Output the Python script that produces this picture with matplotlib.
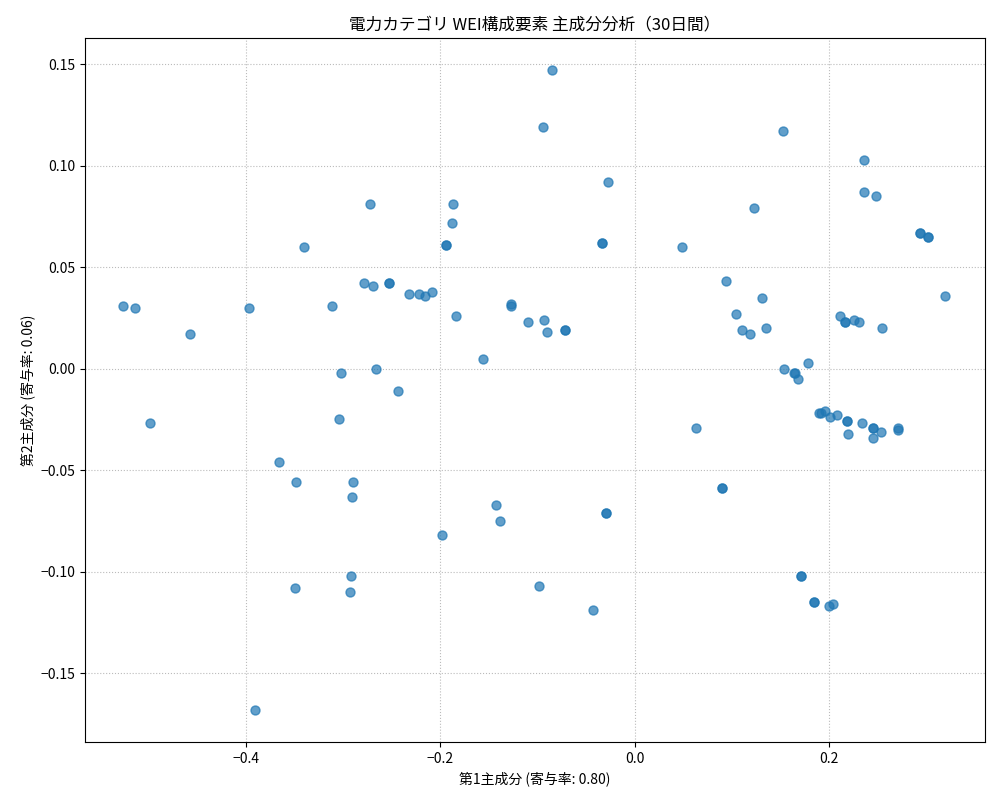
import matplotlib
matplotlib.use("Agg")
import matplotlib.pyplot as plt

plt.rcParams['font.family'] = ['Noto Sans CJK JP', 'DejaVu Sans']
plt.rcParams['axes.unicode_minus'] = True

pc1 = [-0.526,-0.514,-0.498,-0.457,-0.396,-0.390,-0.366,-0.348,-0.349,-0.340,-0.311,-0.304,-0.302,
       -0.290,-0.291,-0.293,-0.292,-0.278,-0.269,-0.266,-0.272,-0.253,-0.253,-0.243,-0.232,-0.222,
       -0.216,-0.208,-0.198,-0.194,-0.194,-0.188,-0.187,-0.184,-0.156,-0.143,-0.138,-0.127,-0.127,
       -0.110,-0.098,-0.093,-0.094,-0.090,-0.085,-0.072,-0.072,-0.043,-0.034,-0.034,-0.030,-0.030,
       -0.027,0.049,0.063,0.090,0.090,0.094,0.104,0.110,0.118,0.123,0.131,0.135,0.152,0.153,0.164,
       0.165,0.168,0.171,0.171,0.178,0.184,0.184,0.189,0.191,0.196,0.200,0.201,0.204,0.208,0.211,
       0.216,0.216,0.218,0.218,0.219,0.225,0.230,0.234,0.236,0.236,0.245,0.245,0.245,0.248,0.253,
       0.254,0.271,0.271,0.293,0.293,0.301,0.301,0.319]
pc2 = [0.031,0.030,-0.027,0.017,0.030,-0.168,-0.046,-0.056,-0.108,0.060,0.031,-0.025,-0.002,
       -0.056,-0.063,-0.110,-0.102,0.042,0.041,0.000,0.081,0.042,0.042,-0.011,0.037,0.037,
       0.036,0.038,-0.082,0.061,0.061,0.072,0.081,0.026,0.005,-0.067,-0.075,0.032,0.031,
       0.023,-0.107,0.024,0.119,0.018,0.147,0.019,0.019,-0.119,0.062,0.062,-0.071,-0.071,
       0.092,0.060,-0.029,-0.059,-0.059,0.043,0.027,0.019,0.017,0.079,0.035,0.020,0.117,0.000,-0.002,
       -0.002,-0.005,-0.102,-0.102,0.003,-0.115,-0.115,-0.022,-0.022,-0.021,-0.117,-0.024,-0.116,-0.023,0.026,
       0.023,0.023,-0.026,-0.026,-0.032,0.024,0.023,-0.027,0.103,0.087,-0.029,-0.029,-0.034,0.085,-0.031,
       0.020,-0.029,-0.030,0.067,0.067,0.065,0.065,0.036]

fig = plt.figure(figsize=(10, 8), dpi=100)
ax = fig.add_axes([0.085, 0.0725, 0.9, 0.88])
ax.scatter(pc1, pc2, alpha=0.7, color='#1f77b4', s=42)
ax.set_xlim(-0.565, 0.36)
ax.set_ylim(-0.184, 0.163)
ax.grid(True, linestyle=':', color='#bbbbbb')
ax.set_axisbelow(True)
ax.set_xlabel('第1主成分 (寄与率: 0.80)')
ax.set_ylabel('第2主成分 (寄与率: 0.06)')
ax.set_title('電力カテゴリ WEI構成要素 主成分分析（30日間）', fontsize=12)
fig.savefig('out.png')
